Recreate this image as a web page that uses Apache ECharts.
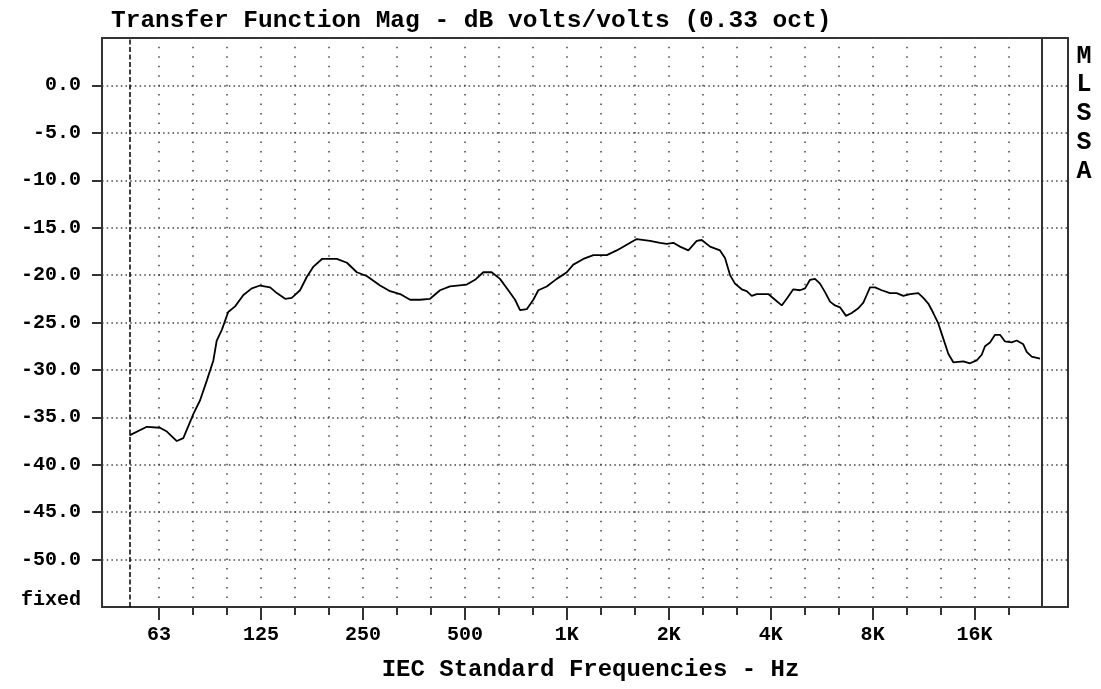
<!DOCTYPE html>
<html><head><meta charset="utf-8">
<script src="https://cdn.jsdelivr.net/npm/echarts@6/dist/echarts.min.js"></script>
<style>html,body{margin:0;padding:0;background:#fff}#c{width:1101px;height:689px}</style>
</head><body><div id="c"></div>
<script>
const titleText = 'Transfer Function Mag - dB volts/volts (0.33 oct)';
const xAxisTitle = 'IEC Standard Frequencies - Hz';
const sideLabel = 'MLSSA';
const scaleNote = 'fixed';

// measured curve: frequency (Hz) and magnitude (dB)
const freqHz = [51.1, 57.5, 62.9, 65.9, 70.5, 73.7, 79.0, 82.6, 86.5, 90.4, 92.5, 95.7, 100, 104.8, 110.9, 117.4, 124.2, 133, 139.2, 147.3, 154.1, 163, 170.6, 178.6, 189.2, 209.3, 224.2, 239.8, 256.5, 280.9, 300.7, 321.9, 344.4, 368.6, 394.6, 422.2, 451.8, 506.3, 535.7, 566.7, 599.9, 634.8, 671.7, 703.3, 727.4, 761.3, 796.3, 823.8, 872.4, 933.6, 1000, 1045, 1119, 1198, 1312, 1404, 1503, 1609, 1761, 1885, 1972, 2063, 2159, 2285, 2419, 2503, 2648, 2834, 2932, 3034, 3138, 3285, 3398, 3516, 3637, 3936, 4119, 4312, 4461, 4665, 4883, 5052, 5227, 5407, 5594, 5788, 5988, 6195, 6409, 6676, 6940, 7259, 7510, 7685, 7859, 8132, 8511, 9004, 9424, 9857, 10315, 10914, 11292, 11682, 12087, 12505, 12937, 13384, 13847, 14821, 15512, 16235, 16796, 17177, 17772, 18386, 19023, 19681, 20596, 21310, 22290, 22810, 23600, 24970];
const magDb = [-36.9, -36.0, -36.1, -36.5, -37.5, -37.2, -34.6, -33.2, -31.1, -29.0, -26.9, -25.8, -23.9, -23.3, -22.1, -21.4, -21.1, -21.3, -21.9, -22.5, -22.4, -21.6, -20.2, -19.1, -18.3, -18.3, -18.7, -19.7, -20.1, -21.1, -21.7, -22.0, -22.6, -22.6, -22.5, -21.6, -21.2, -21.0, -20.5, -19.7, -19.7, -20.4, -21.6, -22.6, -23.7, -23.6, -22.6, -21.6, -21.2, -20.4, -19.7, -18.9, -18.3, -17.9, -17.9, -17.4, -16.8, -16.2, -16.4, -16.6, -16.7, -16.6, -17.0, -17.4, -16.4, -16.3, -17.0, -17.4, -18.2, -20.0, -20.9, -21.5, -21.7, -22.2, -22.0, -22.0, -22.6, -23.2, -22.5, -21.5, -21.6, -21.4, -20.5, -20.4, -20.9, -21.8, -22.8, -23.2, -23.4, -24.3, -24.0, -23.5, -22.9, -22.1, -21.3, -21.3, -21.6, -21.9, -21.9, -22.2, -22.0, -21.9, -22.4, -23.0, -24.0, -25.1, -26.7, -28.3, -29.2, -29.1, -29.3, -29.0, -28.4, -27.5, -27.1, -26.3, -26.3, -27.0, -27.1, -26.9, -27.3, -28.1, -28.6, -28.8];

// x axis: third-octave band index (0 = 1 kHz)
const xMinBand = -13.68;
const xMaxBand = 14.75;
const xMinorBands = [-12, -11, -10, -9, -8, -7, -6, -5, -4, -3, -2, -1, 0, 1, 2, 3, 4, 5, 6, 7, 8, 9, 10, 11, 12, 13];
const xLabelBands = [-12, -9, -6, -3, 0, 3, 6, 9, 12];
const xTickLabels = ['63', '125', '250', '500', '1K', '2K', '4K', '8K', '16K'];

const yMin = -55, yMax = 5, yStep = 5;
const yTickValues = [-50, -45, -40, -35, -30, -25, -20, -15, -10, -5, 0];

const markerFreq = 51.1;
const plotEndFreq = 25250;

function band(f) { return 3 * Math.log2(f / 1000); }

const seriesData = freqHz.map((f, i) => [band(f), magDb[i]]);

const labelFont = { fontFamily: 'Liberation Mono', fontWeight: 'bold', fontSize: 20, color: '#000' };

const chart = echarts.init(document.getElementById('c'), null, { renderer: 'canvas' });
chart.setOption({
  animation: false,
  backgroundColor: '#fff',
  title: {
    text: titleText, left: 111, top: 8, padding: 0,
    textStyle: { fontFamily: 'Liberation Mono', fontWeight: 'bold', fontSize: 24.5, color: '#000' }
  },
  grid: {
    left: 102, right: 33, top: 38, bottom: 82, show: true,
    borderColor: '#333', borderWidth: 2, backgroundColor: 'transparent',
    outerBoundsMode: 'none', containLabel: false
  },
  xAxis: [{
    type: 'value', min: xMinBand, max: xMaxBand, position: 'bottom',
    axisLine: { show: false, onZero: false },
    axisTick: { show: true, customValues: xMinorBands, length: 8, lineStyle: { color: '#333', width: 2 } },
    axisLabel: { show: false },
    splitLine: { show: true, lineStyle: { color: '#444', width: 1.5, type: [1.5, 7.978], dashOffset: 0.75 } }
  }, {
    type: 'value', min: xMinBand, max: xMaxBand, position: 'bottom',
    axisLine: { show: false, onZero: false },
    axisTick: { show: true, customValues: xLabelBands, length: 13, lineStyle: { color: '#333', width: 2 } },
    axisLabel: {
      show: true, customValues: xLabelBands, margin: 18, ...labelFont,
      formatter: function (v) {
        const i = xLabelBands.findIndex(b => Math.abs(b - v) < 1e-6);
        return i >= 0 ? xTickLabels[i] : '';
      }
    },
    splitLine: { show: false },
    name: xAxisTitle, nameLocation: 'middle', nameGap: 51,
    nameTextStyle: { fontFamily: 'Liberation Mono', fontWeight: 'bold', fontSize: 24, color: '#000', padding: [0, 0, 0, 11] }
  }],
  yAxis: {
    type: 'value', min: yMin, max: yMax, interval: yStep, position: 'left',
    axisLine: { show: false, onZero: false },
    axisTick: { show: true, customValues: yTickValues, length: 10, lineStyle: { color: '#333', width: 2 } },
    axisLabel: { show: true, customValues: yTickValues, margin: 21, ...labelFont, formatter: v => v.toFixed(1) },
    splitLine: { show: true, lineStyle: { color: '#444', width: 1.5, type: [1.5, 3.2] } }
  },
  series: [{
    type: 'line', xAxisIndex: 0, yAxisIndex: 0, data: seriesData,
    symbol: 'none', smooth: false,
    lineStyle: { color: '#000', width: 1.8 },
    markLine: {
      silent: true, symbol: ['none', 'none'], label: { show: false },
      emphasis: { disabled: true },
      data: [
        { xAxis: band(markerFreq), lineStyle: { type: [5, 2.5], width: 1.5, color: '#000' } },
        { xAxis: band(plotEndFreq), lineStyle: { type: 'solid', width: 2, color: '#333' } }
      ]
    }
  }],
  graphic: [
    { type: 'text', style: { text: scaleNote, x: 81, y: 600, align: 'right', verticalAlign: 'middle', fontFamily: 'Liberation Mono', fontWeight: 'bold', fontSize: 20, fill: '#000' } },
    { type: 'text', style: { text: sideLabel.split('').join('\n'), x: 1084, y: 42, align: 'center', verticalAlign: 'top', lineHeight: 28.8, fontFamily: 'Liberation Mono', fontWeight: 'bold', fontSize: 25, fill: '#000' } }
  ]
});
</script>
</body></html>
